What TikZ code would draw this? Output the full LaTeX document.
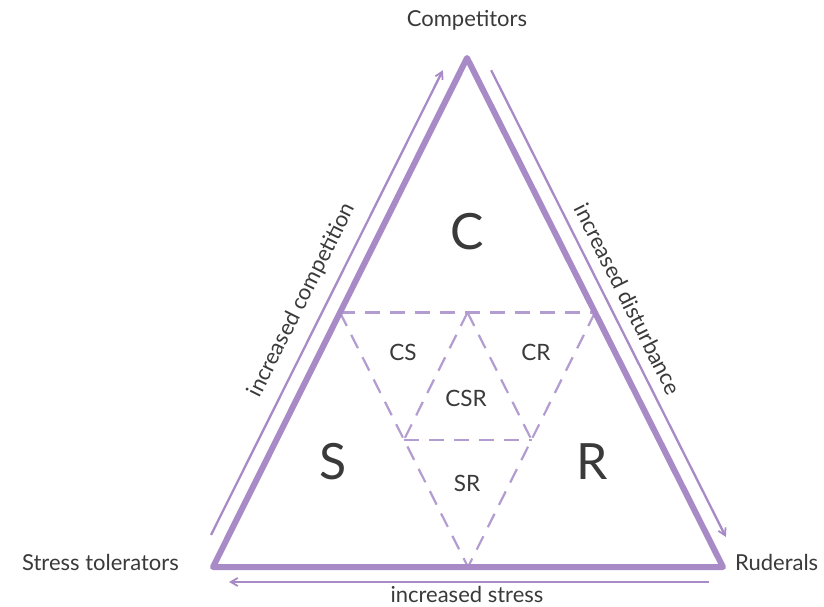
\documentclass[tikz,border=0pt]{standalone}
\usepackage{fontspec}
\setmainfont{Lato}
\usetikzlibrary{arrows.meta,calc}
\definecolor{purp}{HTML}{A88BC6}
\definecolor{purpl}{HTML}{B39DD0}
\definecolor{txt}{HTML}{3A3A3A}
\begin{document}
\begin{tikzpicture}[x=1pt,y=-1pt,
  mainline/.style={draw=purp,line width=6pt,line join=round,line cap=round},
  arrowline/.style={draw=purp,line width=2.3pt,-{Straight Barb[length=7pt,width=8pt,line width=1.8pt]}},
  dashline/.style={draw=purpl,line width=2.2pt,dash pattern=on 15pt off 10pt},
  lbl/.style={text=txt,font=\fontsize{22}{26}\selectfont,inner sep=0pt},
  big/.style={text=txt,font=\fontsize{50}{56}\selectfont,inner sep=0pt},
  small/.style={text=txt,font=\fontsize{22.5}{26}\selectfont,inner sep=0pt}]
\useasboundingbox (0,0) rectangle (824,607);
\fill[white] (0,0) rectangle (824,607);
\coordinate (A) at (467,58);
\coordinate (BL) at (213,567);
\coordinate (BR) at (723,567);
\coordinate (ML) at ($(A)!0.5!(BL)$);
\coordinate (MR) at ($(A)!0.5!(BR)$);
\coordinate (MB) at ($(BL)!0.5!(BR)$);
\coordinate (MM) at ($(ML)!0.5!(MR)$);
\coordinate (P1) at ($(ML)!0.5!(MB)$);
\coordinate (P2) at ($(MR)!0.5!(MB)$);
% arrow end points
\coordinate (LA1) at ($(A)!0.937!(BL)+(-18,0)$);
\coordinate (LA2) at ($(A)!0.024!(BL)+(-18,0)$);
\coordinate (RA1) at ($(A)!0.024!(BR)+(18,0)$);
\coordinate (RA2) at ($(A)!0.941!(BR)+(18,0)$);
\coordinate (BA1) at (709,582);
\coordinate (BA2) at (229,582);
% dashed lines
\draw[dashline] (ML) -- (MR);
\draw[dashline] (ML) -- (MB);
\draw[dashline] (MR) -- (MB);
\draw[dashline] (MM) -- (P1);
\draw[dashline] (MM) -- (P2);
\draw[dashline] (P1) -- (P2);
% main triangle
\draw[mainline] (A) -- (BL) -- (BR) -- cycle;
% arrows
\draw[arrowline] (LA1) -- (LA2);
\draw[arrowline] (RA1) -- (RA2);
\draw[arrowline] (BA1) -- (BA2);
% labels
\node[lbl] (comp) at (467,20) {Competitors};
\node[lbl,anchor=east] (stol) at (179,562) {Stress tolerators};
\node[lbl,anchor=west] (rud) at (735,562) {Ruderals};
\node[lbl] (istress) at (467,594) {increased stress};
\node[lbl,rotate=63.4] (icomp) at (302,300) {increased competition};
\node[lbl,rotate=-63.4] (idist) at (628,299) {increased disturbance};
\node[big] (C) at (467,232) {C};
\node[big] (S) at (333,462) {S};
\node[big] (R) at (592,462) {R};
\node[small] (CS) at (403,352) {CS};
\node[small] (CR) at (536,352) {CR};
\node[small] (CSR) at (466,398) {CSR};
\node[small] (SR) at (467,483) {SR};
\end{tikzpicture}
\end{document}
